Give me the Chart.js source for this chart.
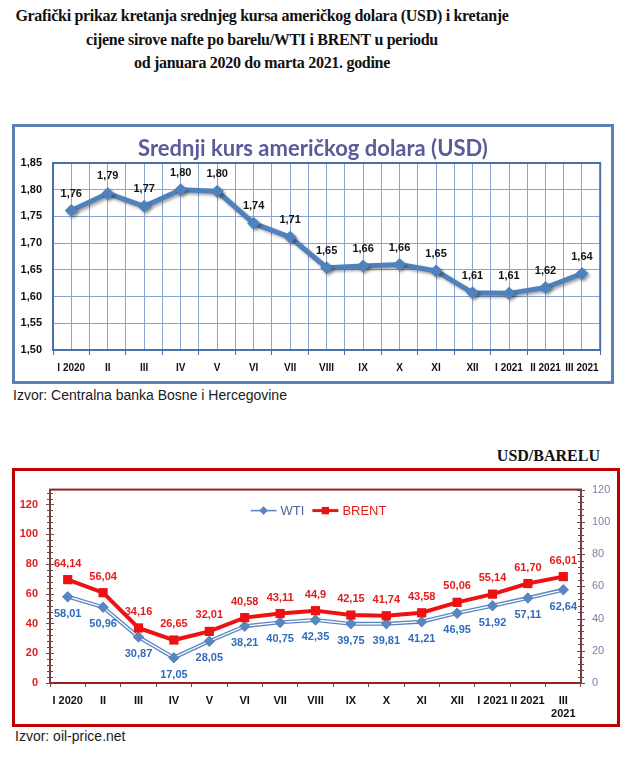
<!DOCTYPE html>
<html>
<head>
<meta charset="utf-8">
<script src="https://cdn.jsdelivr.net/npm/chart.js@4/dist/chart.umd.min.js"></script>
<style>
  body{margin:0;background:#fff;width:630px;height:758px;position:relative;overflow:hidden;font-family:"Liberation Sans",Arial,sans-serif;color:#1a1a1a}
  .abs{position:absolute}
  #heading{left:0;top:4px;width:524px;text-align:center;font:bold 16px/23.5px "Liberation Serif",serif;letter-spacing:-0.3px;color:#111}
  #box1{left:12px;top:124px;width:596px;height:254px;border:3px solid #5b80b6}
  #title1{left:12px;top:135px;width:602px;text-align:center;font:bold 22px/26px Lato,sans-serif;color:#5a5b98}
  #src1{left:13px;top:387px;font-size:14px;line-height:16px}
  #unit{right:30px;top:446px;font:bold 16px/20px "Liberation Serif",serif;color:#111}
  #box2{left:12px;top:468px;width:602px;height:253px;border:3px solid #c00000}
  #src2{left:15px;top:728px;font-size:14px;line-height:16px}
  canvas{position:absolute}
</style>
</head>
<body>
<div id="heading" class="abs">Grafički prikaz kretanja srednjeg kursa američkog dolara (USD) i kretanje<br>cijene sirove nafte po barelu/WTI i BRENT u periodu<br>od januara 2020 do marta 2021. godine</div>

<div id="box1" class="abs"></div>
<canvas id="usdChart" width="596" height="254" style="left:15px;top:127px"></canvas>
<div id="title1" class="abs">Srednji kurs američkog dolara (USD)</div>
<div id="src1" class="abs">Izvor: Centralna banka Bosne i Hercegovine</div>

<div id="unit" class="abs">USD/BARELU</div>
<div id="box2" class="abs"></div>
<canvas id="oilChart" width="602" height="253" style="left:15px;top:471px"></canvas>
<div id="src2" class="abs">Izvor: oil-price.net</div>

<script>
  // --- data ---
  const months = ['I 2020','II','III','IV','V','VI','VII','VIII','IX','X','XI','XII','I 2021','II 2021','III 2021']
  const oilMonths = ['I 2020','II','III','IV','V','VI','VII','VIII','IX','X','XI','XII','I 2021','II 2021',['III','2021']]
  const usdRate = [1.761,1.793,1.769,1.800,1.797,1.737,1.711,1.654,1.657,1.660,1.648,1.607,1.606,1.617,1.643]
  const usdTicks = [1.50,1.55,1.60,1.65,1.70,1.75,1.80,1.85]
  const wti = [58.01,50.96,30.87,17.05,28.05,38.21,40.75,42.35,39.75,39.81,41.21,46.95,51.92,57.11,62.64]
  const brent = [64.14,56.04,34.16,26.65,32.01,40.58,43.11,44.9,42.15,41.74,43.58,50.06,55.14,61.70,66.01]
  const oilTicks = [0,20,40,60,80,100,120]

  const comma = function(s){ return s.replace('.', ',') }
  const usdText = usdRate.map(function(v){ return comma(v.toFixed(2)) })
  const wtiText = wti.map(function(v){ return comma(v.toFixed(2)) })
  const brentText = brent.map(function(v){ return comma(v.toFixed(2)) })
  brentText[7] = '44,9'   // source prints this one with a single decimal

  Chart.defaults.font.family = '"Liberation Sans", Arial, sans-serif'
  Chart.defaults.animation = false

  // value labels next to each point
  const valueLabels = {
    id: 'valueLabels',
    afterDatasetsDraw(chart){
      const ctx = chart.ctx
      chart.data.datasets.forEach(function(ds, i){
        if (!ds.valueText) return
        const meta = chart.getDatasetMeta(i)
        ctx.save()
        ctx.font = 'bold 11px "Liberation Sans", Arial, sans-serif'
        ctx.fillStyle = ds.valueColor
        ctx.textAlign = 'center'
        ctx.textBaseline = 'middle'
        meta.data.forEach(function(pt, j){
          ctx.fillText(ds.valueText[j], pt.x, pt.y + ds.valueDy)
        })
        ctx.restore()
      })
    }
  }

  // frame round the plot area
  const plotFrame = {
    id: 'plotFrame',
    beforeDatasetsDraw(chart, args, opts){
      const a = chart.chartArea, ctx = chart.ctx
      ctx.save()
      ctx.strokeStyle = opts.color
      ctx.lineWidth = opts.width
      ctx.strokeRect(a.left, a.top, a.right - a.left, a.bottom - a.top)
      ctx.restore()
    }
  }

  // soft shadow under the USD line
  const lineShadow = {
    id: 'lineShadow',
    beforeDatasetDraw(chart){
      const ctx = chart.ctx
      ctx.save()
      ctx.shadowColor = 'rgba(0,0,0,0.35)'
      ctx.shadowBlur = 3
      ctx.shadowOffsetX = 2
      ctx.shadowOffsetY = 2
    },
    afterDatasetDraw(chart){ chart.ctx.restore() }
  }

  // WTI is drawn as a double line: white stripe inside the blue one
  const doubleLine = {
    id: 'doubleLine',
    afterDatasetDraw(chart, args){
      const ds = chart.data.datasets[args.index]
      if (!ds.innerLine) return
      const ctx = chart.ctx, pts = args.meta.data
      ctx.save()
      ctx.strokeStyle = '#fff'
      ctx.lineWidth = ds.innerLine
      ctx.lineJoin = 'round'
      ctx.beginPath()
      pts.forEach(function(p, j){ j ? ctx.lineTo(p.x, p.y) : ctx.moveTo(p.x, p.y) })
      ctx.stroke()
      ctx.restore()
      pts.forEach(function(p){ p.draw(ctx, chart.chartArea) })
    }
  }

  // major + minor tick marks crossing both value axes
  const axisTicks = {
    id: 'axisTicks',
    afterDraw(chart){
      const ctx = chart.ctx
      ctx.save()
      ctx.strokeStyle = '#6e4848'
      ctx.lineWidth = 1
      ;[['yL', 'right'], ['yR', 'left']].forEach(function(pair){
        const s = chart.scales[pair[0]]
        const x = s[pair[1]]
        ctx.beginPath()
        ctx.moveTo(x, chart.chartArea.top); ctx.lineTo(x, chart.chartArea.bottom)
        ctx.lineWidth = 1.5
        ctx.stroke()
        ctx.lineWidth = 1
        for (let v = 0; v <= s.max; v += 4){
          const y = Math.round(s.getPixelForValue(v)) + 0.5
          const len = v % 20 === 0 ? 4 : 3
          ctx.beginPath(); ctx.moveTo(x - len, y); ctx.lineTo(x + len, y); ctx.stroke()
        }
      })
      ctx.restore()
    }
  }

  // legend: short line with marker, like the spreadsheet one
  const lineLegend = {
    id: 'lineLegend',
    afterDraw(chart){
      const ctx = chart.ctx, a = chart.chartArea
      const y = a.top + 21
      const items = chart.data.datasets.filter(function(d){ return d.legendOrder !== undefined })
        .sort(function(p, q){ return p.legendOrder - q.legendOrder })
      ctx.save()
      ctx.font = '13px "Liberation Sans", Arial, sans-serif'
      const widths = items.map(function(d){ return 30 + ctx.measureText(d.label).width })
      const total = widths.reduce(function(s, w){ return s + w }, 0) + 8 * (items.length - 1)
      let x = (a.left + a.right) / 2 - total / 2 + 3
      items.forEach(function(d, i){
        ctx.strokeStyle = d.borderColor
        ctx.lineWidth = d.legendLine
        ctx.beginPath(); ctx.moveTo(x, y); ctx.lineTo(x + 26, y); ctx.stroke()
        ctx.fillStyle = d.backgroundColor
        Chart.helpers.drawPoint(ctx, { pointStyle: d.pointStyle, radius: d.pointRadius * 0.8, rotation: 0, borderWidth: 0 }, x + 13, y)
        ctx.fillStyle = d.legendColor
        ctx.textBaseline = 'middle'
        ctx.fillText(d.label, x + 30, y + 1)
        x += widths[i] + 8
      })
      ctx.restore()
    }
  }

  // ---------- chart 1: USD ----------
  const grid1 = '#8aa3d0'
  new Chart(document.getElementById('usdChart'), {
    type: 'line',
    data: {
      labels: months,
      datasets: [{
        label: 'USD',
        data: usdRate,
        borderColor: '#4f81bd',
        backgroundColor: '#4f81bd',
        borderWidth: 5,
        pointStyle: 'rectRot',
        pointRadius: 6.5,
        pointBorderWidth: 0,
        tension: 0,
        clip: false,
        valueText: usdText,
        valueColor: '#111',
        valueDy: -17
      }]
    },
    options: {
      responsive: false,
      layout: { padding: { top: 36, right: 6, left: 0, bottom: 0 } },
      plugins: {
        legend: { display: false },
        tooltip: { enabled: false },
        plotFrame: { color: '#4a70aa', width: 2 }
      },
      scales: {
        y: {
          min: 1.5, max: 1.85,
          afterBuildTicks: function(s){ s.ticks = usdTicks.map(function(v){ return { value: v } }) },
          afterFit: function(s){ s.width = 38 },
          grid: { color: grid1, drawTicks: false },
          border: { display: false },
          ticks: {
            padding: 11, color: '#111', font: { size: 11, weight: 'bold' },
            callback: function(v){ return comma(v.toFixed(2)) }
          }
        },
        x: {
          weight: 1,
          offset: true,
          afterFit: function(s){ s.height = 31 },
          grid: { offset: false, color: grid1, drawTicks: false },
          border: { display: false },
          ticks: { padding: 12, color: '#111', font: { size: 10, weight: 'bold' }, autoSkip: false, maxRotation: 0 }
        },
        xb: {
          type: 'category',
          position: 'bottom',
          weight: 0,
          offset: true,
          afterFit: function(s){ s.height = 0 },
          grid: { offset: true, color: grid1, tickLength: 5, tickColor: '#4a70aa' },
          border: { display: false },
          ticks: { display: false }
        }
      }
    },
    plugins: [plotFrame, lineShadow, valueLabels]
  })

  // ---------- chart 2: WTI / BRENT ----------
  new Chart(document.getElementById('oilChart'), {
    type: 'line',
    data: {
      labels: oilMonths,
      datasets: [{
        label: 'BRENT',
        data: brent,
        yAxisID: 'yR',
        borderColor: '#ee1111',
        backgroundColor: '#ee1111',
        borderWidth: 4,
        pointStyle: 'rect',
        pointRadius: 6.5,
        pointBorderWidth: 0,
        tension: 0,
        clip: false,
        valueText: brentText,
        valueColor: '#e41b1b',
        valueDy: -16,
        legendOrder: 1,
        legendLine: 3,
        legendColor: '#e41b1b'
      }, {
        label: 'WTI',
        data: wti,
        yAxisID: 'yL',
        borderColor: '#5a86c0',
        backgroundColor: '#5a86c0',
        borderWidth: 4,
        innerLine: 1.3,
        pointStyle: 'rectRot',
        pointRadius: 5.5,
        pointBorderWidth: 0,
        tension: 0,
        clip: false,
        valueText: wtiText,
        valueColor: '#2f6cbb',
        valueDy: 17,
        legendOrder: 0,
        legendLine: 1.5,
        legendColor: '#56609a'
      }]
    },
    options: {
      responsive: false,
      layout: { padding: { top: 5, right: 0, left: 0, bottom: 0 } },
      plugins: {
        legend: { display: false },
        tooltip: { enabled: false },
        plotFrame: { color: '#962020', width: 2 }
      },
      scales: {
        yL: {
          position: 'left',
          min: 0, max: 130,
          afterBuildTicks: function(s){ s.ticks = oilTicks.map(function(v){ return { value: v } }) },
          afterFit: function(s){ s.width = 35 },
          grid: { drawOnChartArea: false, drawTicks: false },
          border: { display: false },
          ticks: { padding: 12, color: '#e41b1b', font: { size: 11, weight: 'bold' } }
        },
        yR: {
          position: 'right',
          min: 0, max: 120,
          afterBuildTicks: function(s){ s.ticks = oilTicks.map(function(v){ return { value: v } }) },
          afterFit: function(s){ s.width = 36 },
          grid: { drawOnChartArea: false, drawTicks: false },
          border: { display: false },
          ticks: { padding: 11, color: '#7f80a8', font: { size: 11 } }
        },
        x: {
          offset: true,
          afterFit: function(s){ s.height = 41 },
          grid: { offset: true, drawOnChartArea: false, tickLength: 4, tickColor: '#6e4848' },
          border: { display: false },
          ticks: { padding: 7, color: '#111', font: { size: 11, weight: 'bold' }, autoSkip: false, maxRotation: 0 }
        }
      }
    },
    plugins: [plotFrame, doubleLine, valueLabels, axisTicks, lineLegend]
  })
</script>
</body>
</html>
